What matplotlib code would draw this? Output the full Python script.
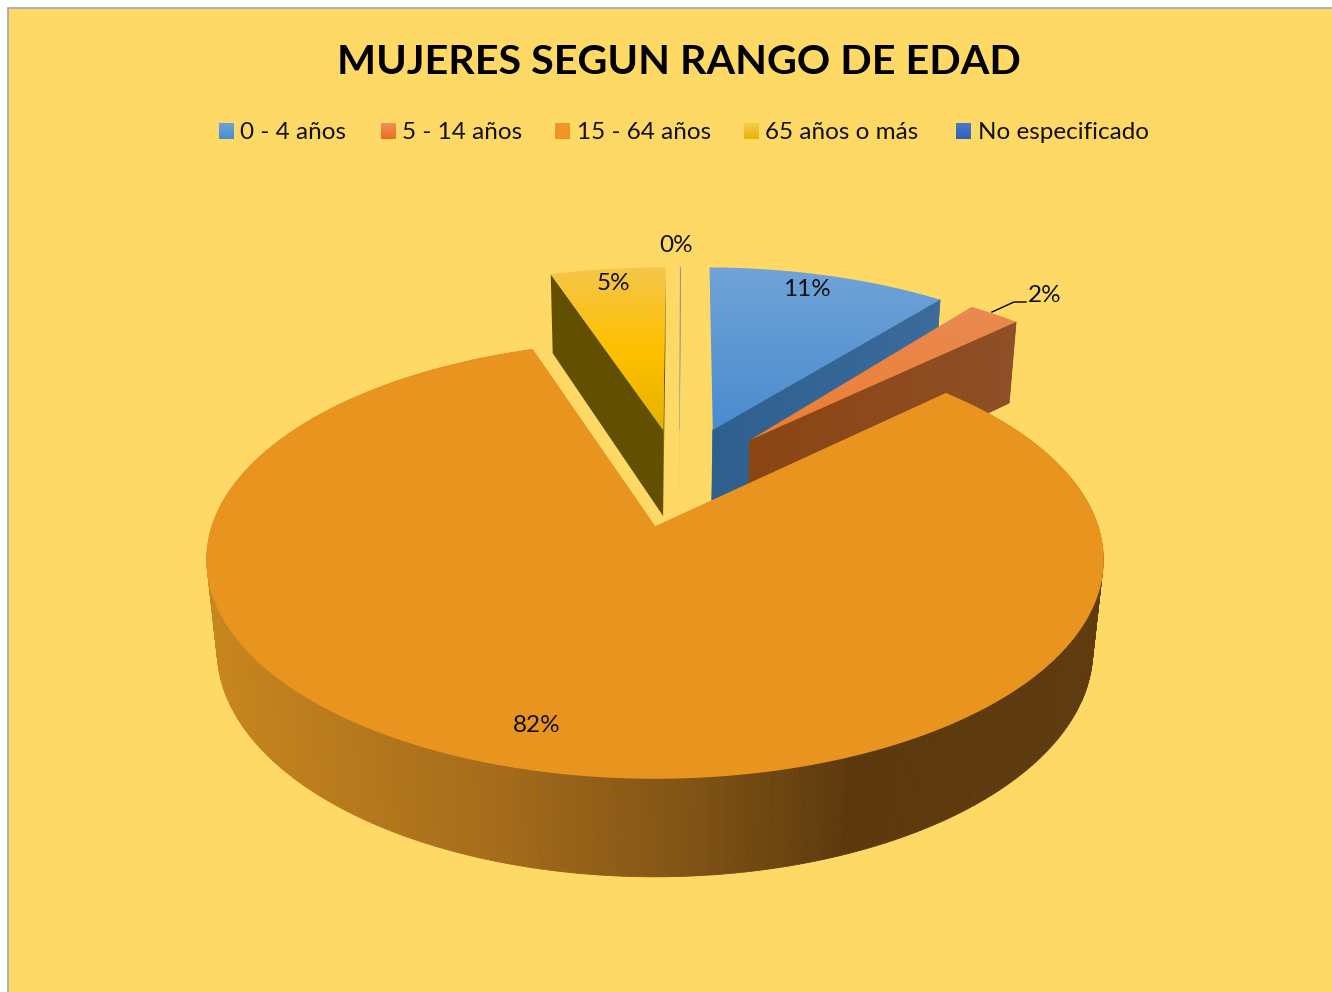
import numpy as np
import matplotlib
matplotlib.use("Agg")
import matplotlib.pyplot as plt
from matplotlib.colors import LinearSegmentedColormap
from matplotlib.patches import Polygon, Rectangle

plt.rcParams['font.family'] = ['Lato', 'DejaVu Sans']

categories = ["0 - 4 años", "5 - 14 años", "15 - 64 años", "65 años o más", "No especificado"]
values = [10.6, 2.3, 82.0, 5.1, 0.02]  # last one is a sliver that rounds to 0%

# per slice drawing style
offsets = [(0.14, 0.488), (0.228, 0.434), (0.0, 0.0), (0.02, 0.488), (0.06, 0.488)]
rotation = [0.6, 0.0, 0.0, 0.6, 0.6]
top_colors = [["#70A3D8", "#4A8CCF"], ["#E98A52", "#ED7D31"], ["#E9941F", "#E9941F"],
              ["#F4C64A", "#FFC000", "#E6B200"], ["#5B7FA8", "#5B7FA8"]]
side_colors = [["#3C6C9C", "#2F5F8F"], ["#8F4F28", "#8B4513"], ["#5C390D", "#5C390D"],
               ["#625000", "#625000"], ["#5B7FA8", "#5B7FA8"]]
swatch_colors = [["#6BA3DC", "#4A8CCF"], ["#EE9159", "#EB6E1C"], ["#F0982A", "#EE9424"],
                 ["#F8CB50", "#E8B400"], ["#4A78CC", "#2F62B8"]]
swatch_x = [219, 381, 555, 744, 956]
text_x = [240, 402, 577, 765, 978]
label_pos = [(807, 290), (1045, 296), (537, 726), (613, 284), (676, 246)]

# projection of the tilted disc to the picture
OX, OY = 655, 527
A, B, P = 443, 213.4, 0.15
DEPTH, Q = 92, 0.023


def project(x, y, z=0.0):
    w = 1 + P * np.asarray(y) + Q * z
    return OX + A * np.asarray(x) / w, OY - (B * np.asarray(y) - DEPTH * z) / w


def gradient_fill(ax, pts, colors, zorder):
    # vertical gradient clipped to a polygon
    x0, x1 = pts[:, 0].min(), pts[:, 0].max()
    y0, y1 = pts[:, 1].min(), pts[:, 1].max()
    cmap = LinearSegmentedColormap.from_list("g", colors)
    im = ax.imshow(np.linspace(0, 1, 256)[:, None], cmap=cmap, aspect='auto',
                   extent=(x0, x1, y1, y0), zorder=zorder, interpolation='bilinear')
    clip = Polygon(pts, closed=True, transform=ax.transData, fc='none', ec='none')
    ax.add_patch(clip)
    im.set_clip_path(clip)


fig = plt.figure(figsize=(13.32, 9.92), dpi=100, facecolor='white')
ax = fig.add_axes([0, 0, 1, 1])
ax.set_xlim(0, 1332)
ax.set_ylim(992, 0)
ax.axis('off')

ax.add_patch(Rectangle((8, 8), 1340, 1000, fc='#FFD966', ec='#A6A6A6', lw=1.2, zorder=0))

ax.text(679, 62, "MUJERES SEGUN RANGO DE EDAD", fontsize=29.7, fontweight='bold',
        color='black', ha='center', va='center', zorder=30)

for i, name in enumerate(categories):
    sw = np.array([[swatch_x[i], 123], [swatch_x[i] + 15, 123],
                   [swatch_x[i] + 15, 139], [swatch_x[i], 139]], dtype=float)
    gradient_fill(ax, sw, swatch_colors[i], 5)
    ax.text(text_x[i], 132.5, name, fontsize=17.5, color='#111111', ha='left', va='center', zorder=30)

fractions = np.array(values) / sum(values)
edges = np.concatenate([[0], np.cumsum(fractions)]) * 2 * np.pi

# main slice outer wall runs light to dark from left to right
wall = LinearSegmentedColormap.from_list(
    "wall", [(0.0, "#C8861F"), (0.32, "#A56C1B"), (0.55, "#7F5215"), (0.72, "#5C390D"), (1.0, "#5F3C10")])

z = 1
for i in [3, 4, 0, 1, 2]:
    ox, oy = offsets[i]
    rot = np.radians(rotation[i])
    th = np.linspace(edges[i], edges[i + 1], max(int((edges[i + 1] - edges[i]) * 90), 3)) + rot
    xs = ox + np.sin(th)
    ys = oy + np.cos(th)
    lw = 0.2 if i == 4 else 0.5

    # radial walls, only the ones turned to the viewer
    for t, sign in ((th[0], -1), (th[-1], 1)):
        if sign * np.sin(t) <= 0:
            continue
        ex, ey = ox + np.sin(t), oy + np.cos(t)
        base = np.array([project(ox, oy), project(ex, ey), project(ex, ey, 1), project(ox, oy, 1)])
        ax.add_patch(Polygon(base, closed=True, fc=side_colors[i][1], ec='none', zorder=z))
        z += 1
        if side_colors[i][0] == side_colors[i][1]:
            continue
        # walls get a little lighter towards the rim
        gradient = LinearSegmentedColormap.from_list("s", side_colors[i])
        n = 40
        for k in range(n):
            a0, a1 = k / n, (k + 1) / n
            q = np.array([project(ox + (ex - ox) * a0, oy + (ey - oy) * a0),
                          project(ox + (ex - ox) * a1, oy + (ey - oy) * a1),
                          project(ox + (ex - ox) * a1, oy + (ey - oy) * a1, 1),
                          project(ox + (ex - ox) * a0, oy + (ey - oy) * a0, 1)])
            c = gradient(1 - a0)
            ax.add_patch(Polygon(q, closed=True, fc=c, ec=c, lw=lw, zorder=z))
        z += 1

    tx0, ty0 = project(xs, ys)

    # outer wall, only the big slice shows it
    if i == 2:
        tx1, ty1 = project(xs, ys, 1)
        for k in range(len(th) - 1):
            q = [(tx0[k], ty0[k]), (tx0[k + 1], ty0[k + 1]), (tx1[k + 1], ty1[k + 1]), (tx1[k], ty1[k])]
            c = wall((tx1[k] - 217) / (1095 - 217))
            ax.add_patch(Polygon(q, closed=True, fc=c, ec=c, lw=0.6, zorder=z))
        z += 1

    # top face
    ax0, ay0 = project(ox, oy)
    pts = np.vstack([[ax0, ay0], np.column_stack([tx0, ty0])])
    if len(set(top_colors[i])) == 1:
        ax.add_patch(Polygon(pts, closed=True, fc=top_colors[i][0], ec=top_colors[i][0],
                             lw=1.0 if i == 2 else lw, zorder=z))
    else:
        gradient_fill(ax, pts, top_colors[i], z)
    z += 1

for i, v in enumerate(values):
    ax.text(label_pos[i][0], label_pos[i][1], f"{round(v)}%", fontsize=17.5, color='#111111',
            ha='center', va='center', zorder=31)

# leader line of the small slice
ax.plot([992, 1014, 1026], [312, 302, 302], color='black', lw=1, zorder=31)

ax.set_xlim(0, 1332)
ax.set_ylim(992, 0)
fig.savefig("out.png", dpi=100, facecolor='white')
plt.close(fig)
